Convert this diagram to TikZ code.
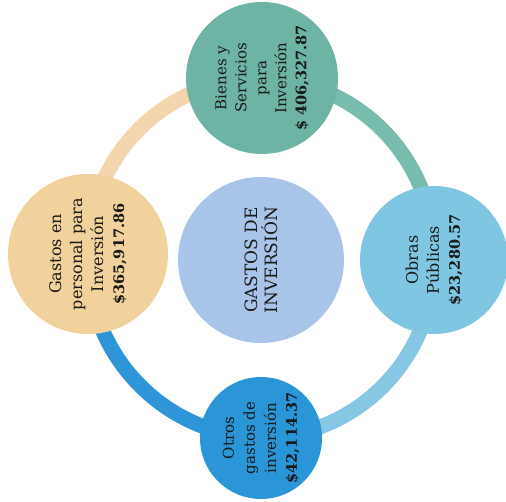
\documentclass[tikz,border=0pt]{standalone}
\usepackage{fontspec}
\setmainfont{DejaVu Serif}
\usetikzlibrary{backgrounds}
\definecolor{colorTeal}{RGB}{110,180,164}
\definecolor{colorPeach}{RGB}{242,210,156}
\definecolor{colorLav}{RGB}{168,196,232}
\definecolor{colorSky}{RGB}{126,198,226}
\definecolor{colorBlue}{RGB}{42,150,216}
\definecolor{ringPeach}{RGB}{244,214,174}
\definecolor{ringTeal}{RGB}{120,188,174}
\definecolor{ringSky}{RGB}{134,200,228}
\definecolor{ringBlue}{RGB}{46,150,216}
\def\ringwidth{15pt}
\def\amount#1{{\bfseries\fontsize{14.5}{21}\selectfont#1}}
\tikzset{
    bubble/.style={circle, draw=none, rotate=90, align=center, inner sep=0pt,
        text=black!90, font=\fontsize{16}{21}\selectfont},
    ring/.style={line width=\ringwidth},
}

\begin{document}
\begin{tikzpicture}[x=1pt, y=1pt]
    \useasboundingbox (0,0) rectangle (506,502);
    \node[bubble, fill=colorLav, minimum size=166pt, font=\fontsize{17}{20}\selectfont] at (261,242) (centro) {GASTOS DE\\INVERSIÓN};
    \node[bubble, fill=colorTeal, minimum size=152pt, font=\fontsize{15}{20}\selectfont] at (262,424) (bienes) {Bienes y\\Servicios\\para\\Inversión\\\amount{\$ 406,327.87}};
    \node[bubble, fill=colorPeach, minimum size=160pt] at (88,248) (personal) {Gastos en\\personal para\\Inversión\\\amount{\$365,917.86}};
    \node[bubble, fill=colorSky, minimum size=148pt] at (434,242) (obras) {Obras\\Públicas\\\amount{\$23,280.57}};
    \node[bubble, fill=colorBlue, minimum size=122pt, font=\fontsize{15}{21}\selectfont] at (261,64) (otros) {Otros\\gastos de\\inversión\\\amount{\$42,114.37}};
    \begin{scope}[on background layer]
        \draw[ring, ringPeach] (bienes.center) to[bend right=45] (personal.center);
        \draw[ring, ringBlue] (personal.center) to[bend right=45] (otros.center);
        \draw[ring, ringSky] (otros.center) to[bend right=45] (obras.center);
        \draw[ring, ringTeal] (obras.center) to[bend right=45] (bienes.center);
    \end{scope}
\end{tikzpicture}
\end{document}
